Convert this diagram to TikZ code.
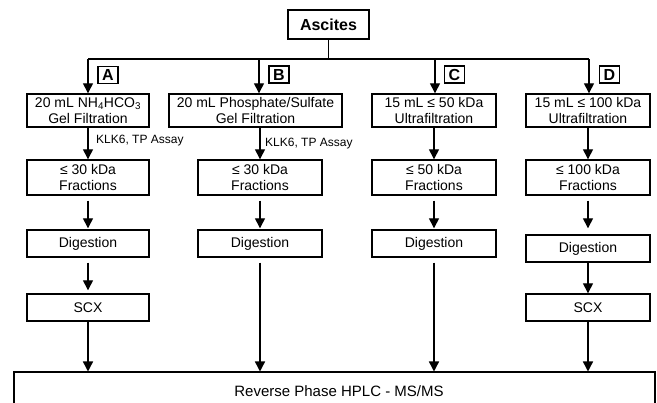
\documentclass[tikz,border=0pt]{standalone}
\usepackage{fontspec}
\setmainfont{Liberation Sans}
\usetikzlibrary{arrows.meta}
\begin{document}
\begin{tikzpicture}[x=1pt,y=-1pt,
  box/.style={draw, line width=1.4pt, inner sep=0pt, align=center, font=\fontsize{14}{16}\selectfont},
  lbl/.style={draw, line width=1.4pt, inner sep=0pt, minimum width=20pt, minimum height=17pt, font=\fontsize{16}{18}\selectfont\bfseries},
  arr/.style={line width=1.4pt, -{Triangle[width=10pt,length=10pt]}},
  ln/.style={line width=1.4pt},
  note/.style={inner sep=0pt, anchor=west, font=\fontsize{12}{14}\selectfont}]
\fill[white] (0,0) rectangle (657,403);
\useasboundingbox (0,0) rectangle (657,403);

% top
\node[box, minimum width=81pt, minimum height=29pt, font=\fontsize{16}{18}\selectfont\bfseries] (asc) at (328.5,24.5) {Ascites};
\coordinate (jA) at (88,59);
\coordinate (jB) at (259,59);
\coordinate (jC) at (435,59);
\coordinate (jD) at (589,59);
\draw[ln] (asc.south) -- (asc.south |- jA);
\draw[ln] (jA) -- (jD);

% letter boxes
\node[lbl] (lA) at (108,75) {A};
\node[lbl] (lB) at (279,74.5) {B};
\node[lbl] (lC) at (454.5,74.5) {C};
\node[lbl] (lD) at (609.5,74.5) {D};

% first row
\node[box, minimum width=122pt, minimum height=33pt] (gA) at (88,110.5) {20 mL NH\textsubscript{4}HCO\textsubscript{3}\\Gel Filtration};
\node[box, minimum width=173pt, minimum height=33pt] (gB) at (255.5,110.5) {20 mL Phosphate/Sulfate\\Gel Filtration};
\node[box, minimum width=124pt, minimum height=33pt] (gC) at (434,110.5) {15 mL ≤ 50 kDa\\Ultrafiltration};
\node[box, minimum width=124pt, minimum height=33pt] (gD) at (588,110.5) {15 mL ≤ 100 kDa\\Ultrafiltration};

\draw[arr] (jA) -- (jA |- gA.north);
\draw[arr] (jB) -- (jB |- gB.north);
\draw[arr] (jC) -- (jC |- gC.north);
\draw[arr] (jD) -- (jD |- gD.north);

% fractions
\node[box, minimum width=122pt, minimum height=35pt] (fA) at (88,177.5) {≤ 30 kDa\\Fractions};
\node[box, minimum width=124pt, minimum height=35pt] (fB) at (260,177.5) {≤ 30 kDa\\Fractions};
\node[box, minimum width=124pt, minimum height=35pt] (fC) at (434,177.5) {≤ 50 kDa\\Fractions};
\node[box, minimum width=124pt, minimum height=35pt] (fD) at (588,177.5) {≤ 100 kDa\\Fractions};

\draw[arr] (gA.south) -- (fA.north);
\draw[arr] (fB.north |- gB.south) -- (fB.north);
\draw[arr] (gC.south) -- (fC.north);
\draw[arr] (gD.south) -- (fD.north);

\node[note] (kA) at (96,141) {KLK6, TP Assay};
\node[note] (kB) at (265,144) {KLK6, TP Assay};

% digestion
\node[box, minimum width=122pt, minimum height=27pt] (dA) at (88,243.5) {Digestion};
\node[box, minimum width=124pt, minimum height=27pt] (dB) at (260,243.5) {Digestion};
\node[box, minimum width=124pt, minimum height=27pt] (dC) at (434,243.5) {Digestion};
\node[box, minimum width=124pt, minimum height=27pt] (dD) at (588,248.5) {Digestion};

\draw[arr, shorten <=5pt, shorten >=1pt] (fA.south) -- (dA.north);
\draw[arr, shorten <=5pt, shorten >=1pt] (fB.south) -- (dB.north);
\draw[arr, shorten <=5pt, shorten >=1pt] (fC.south) -- (dC.north);
\draw[arr, shorten <=5pt, shorten >=6pt] (fD.south) -- (dD.north);

% SCX
\node[box, minimum width=122pt, minimum height=27pt] (sA) at (88,307.5) {SCX};
\node[box, minimum width=124pt, minimum height=27pt] (sD) at (588,307.5) {SCX};

\draw[arr, shorten <=5pt, shorten >=3pt] (dA.south) -- (sA.north);
\draw[arr] (dD.south) -- (sD.north);

% HPLC
\node[box, minimum width=641pt, minimum height=44pt, anchor=north] (hp) at (334.5,371.5) {};
\node[inner sep=0pt, font=\fontsize{15}{17}\selectfont] (hpt) at (339,391) {Reverse Phase HPLC - MS/MS};

\draw[arr] (sA.south) -- (sA.south |- hp.north);
\draw[arr, shorten <=5pt] (dB.south) -- (dB.south |- hp.north);
\draw[arr, shorten <=5pt] (dC.south) -- (dC.south |- hp.north);
\draw[arr] (sD.south) -- (sD.south |- hp.north);
\end{tikzpicture}
\end{document}
